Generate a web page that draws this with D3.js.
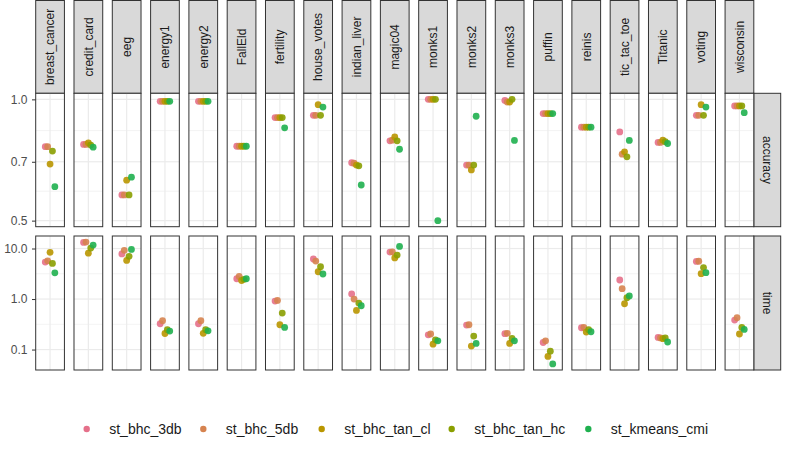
<!DOCTYPE html>
<html>
<head>
<meta charset="utf-8">
<script src="https://cdn.jsdelivr.net/npm/d3@7.9.0/dist/d3.min.js"></script>
<style>
  body { margin: 0; background: #fff; }
  svg { font-family: "Liberation Sans", Arial, sans-serif; display: block; }
</style>
</head>
<body>
<div id="chart"></div>
<script>
const datasets = ["breast_cancer", "credit_card", "eeg", "energy1", "energy2", "FallEld",
  "fertility", "house_votes", "indian_liver", "magic04", "monks1", "monks2", "monks3",
  "puffin", "reinis", "tic_tac_toe", "Titanic", "voting", "wisconsin"];

const series = ["st_bhc_3db", "st_bhc_5db", "st_bhc_tan_cl", "st_bhc_tan_hc", "st_kmeans_cmi"];
const seriesColors = ["#E5708A", "#D6834F", "#B99600", "#8A9F00", "#1FB04F"];

const metrics = ["accuracy", "time"];

// accuracy per series, in dataset order
const accuracy3db = [0.763, 0.773, 0.579, 0.989, 0.989, 0.765, 0.901, 0.913, 0.696, 0.789, 1.0, 0.687, 0.994, 0.922, 0.853, 0.830, 0.782, 0.913, 0.963];
const accuracy5db = [0.763, 0.773, 0.579, 0.989, 0.989, 0.765, 0.901, 0.913, 0.694, 0.792, 1.0, 0.687, 0.985, 0.922, 0.853, 0.731, 0.782, 0.913, 0.963];
const accuracyTanCl = [0.691, 0.780, 0.630, 0.989, 0.989, 0.765, 0.901, 0.970, 0.687, 0.807, 1.0, 0.668, 0.985, 0.922, 0.853, 0.741, 0.792, 0.970, 0.963];
const accuracyTanHc = [0.744, 0.770, 0.579, 0.989, 0.989, 0.765, 0.901, 0.913, 0.684, 0.789, 1.0, 0.687, 1.0, 0.922, 0.853, 0.720, 0.785, 0.913, 0.963];
const accuracyKmeans = [0.607, 0.761, 0.641, 0.989, 0.989, 0.765, 0.850, 0.957, 0.613, 0.752, 0.5, 0.908, 0.791, 0.922, 0.853, 0.791, 0.777, 0.957, 0.927];

// time per series, in dataset order
const time3db = [5.4, 13.2, 7.8, 0.324, 0.324, 2.52, 0.913, 6.2, 1.26, 8.5, 0.196, 0.305, 0.206, 0.138, 0.27, 2.38, 0.174, 5.56, 0.384];
const time5db = [5.7, 13.4, 9.2, 0.372, 0.372, 2.8, 0.94, 5.65, 1.0, 8.6, 0.203, 0.31, 0.21, 0.149, 0.275, 1.6, 0.17, 5.6, 0.426];
const timeTanCl = [8.4, 8.1, 5.8, 0.208, 0.21, 2.33, 0.31, 3.47, 0.594, 6.5, 0.128, 0.117, 0.132, 0.073, 0.222, 0.807, 0.164, 3.17, 0.203];
const timeTanHc = [5.07, 10.2, 7.0, 0.247, 0.247, 2.46, 0.528, 4.36, 0.833, 7.4, 0.156, 0.185, 0.166, 0.093, 0.247, 1.06, 0.17, 4.2, 0.274];
const timeKmeans = [3.3, 11.7, 9.6, 0.232, 0.235, 2.52, 0.274, 3.13, 0.736, 11.0, 0.149, 0.132, 0.149, 0.052, 0.225, 1.15, 0.141, 3.32, 0.25];

const accuracyTicks = [0.5, 0.7, 1.0];
const timeTicks = [0.1, 1.0, 10.0];

const values = {
  accuracy: [accuracy3db, accuracy5db, accuracyTanCl, accuracyTanHc, accuracyKmeans],
  time: [time3db, time5db, timeTanCl, timeTanHc, timeKmeans]
};
const ticks = { accuracy: accuracyTicks, time: timeTicks };

const points = [];
metrics.forEach(m => {
  series.forEach((s, si) => {
    datasets.forEach((ds, di) => {
      points.push({ metric: m, series: s, dataset: ds, value: values[m][si][di] });
    });
  });
});

const width = 789;
const height = 451;

const svg = d3.select("#chart").append("svg")
  .attr("width", width)
  .attr("height", height);

const x = d3.scaleBand()
  .domain(datasets)
  .range([35.7, 753.8])
  .paddingInner(0.25)
  .paddingOuter(0);

// discrete x: one unit = bandwidth / 1.2, dodge width 0.5
const unit = x.bandwidth() / 1.2;
const dodge = d3.scalePoint()
  .domain(series)
  .range([-0.2 * unit, 0.2 * unit]);

const rowRange = { accuracy: [226.7, 93.3], time: [370, 236] };

const color = d3.scaleOrdinal().domain(series).range(seriesColors);

const yScales = {};
metrics.forEach(m => {
  const vals = points.filter(d => d.metric === m).map(d => Math.log10(d.value));
  const [lo, hi] = d3.extent(vals);
  const pad = (hi - lo) * 0.05;
  yScales[m] = d3.scaleLog()
    .domain([Math.pow(10, lo - pad), Math.pow(10, hi + pad)])
    .range(rowRange[m]);
});

const stripTop = 0.5;
const stripRight = 780.7;
const labelSize = 12;

// top strips
const strips = svg.append("g").attr("class", "strips");
strips.selectAll("rect")
  .data(datasets)
  .join("rect")
  .attr("x", d => x(d))
  .attr("y", stripTop)
  .attr("width", x.bandwidth())
  .attr("height", rowRange.accuracy[1] - stripTop)
  .attr("fill", "#D9D9D9")
  .attr("stroke", "#333333")
  .attr("stroke-width", 1);

strips.selectAll("text")
  .data(datasets)
  .join("text")
  .attr("transform", d => `translate(${x(d) + x.bandwidth() / 2 + 4.3},${(stripTop + rowRange.accuracy[1]) / 2}) rotate(-90)`)
  .attr("text-anchor", "middle")
  .attr("font-size", labelSize)
  .attr("fill", "#1A1A1A")
  .text(d => d);

metrics.forEach(m => {
  const y = yScales[m];
  const [y1, y0] = rowRange[m];
  const g = svg.append("g").attr("class", `row-${m}`);

  // right strip
  g.append("rect")
    .attr("x", x.range()[1])
    .attr("y", y0)
    .attr("width", stripRight - x.range()[1])
    .attr("height", y1 - y0)
    .attr("fill", "#D9D9D9")
    .attr("stroke", "#333333")
    .attr("stroke-width", 1);

  g.append("text")
    .attr("transform", `translate(${(x.range()[1] + stripRight) / 2 - 4.3},${(y0 + y1) / 2}) rotate(90)`)
    .attr("text-anchor", "middle")
    .attr("font-size", labelSize)
    .attr("fill", "#1A1A1A")
    .text(m);

  // minor breaks: midpoints of majors in log space
  const major = ticks[m];
  const minor = d3.pairs(major).map(([a, b]) => Math.sqrt(a * b));

  const panels = g.selectAll("g.panel")
    .data(datasets)
    .join("g")
    .attr("class", "panel")
    .attr("transform", d => `translate(${x(d)},0)`);

  panels.append("rect")
    .attr("y", y0)
    .attr("width", x.bandwidth())
    .attr("height", y1 - y0)
    .attr("fill", "#fff");

  panels.selectAll("line.minor")
    .data(minor)
    .join("line")
    .attr("class", "minor")
    .attr("x1", 0)
    .attr("x2", x.bandwidth())
    .attr("y1", d => y(d))
    .attr("y2", d => y(d))
    .attr("stroke", "#EBEBEB")
    .attr("stroke-width", 0.6);

  panels.selectAll("line.major")
    .data(major)
    .join("line")
    .attr("class", "major")
    .attr("x1", 0)
    .attr("x2", x.bandwidth())
    .attr("y1", d => y(d))
    .attr("y2", d => y(d))
    .attr("stroke", "#EBEBEB")
    .attr("stroke-width", 1.2);

  panels.append("line")
    .attr("x1", x.bandwidth() / 2)
    .attr("x2", x.bandwidth() / 2)
    .attr("y1", y0)
    .attr("y2", y1)
    .attr("stroke", "#EBEBEB")
    .attr("stroke-width", 1.2);

  panels.selectAll("circle")
    .data(ds => points.filter(p => p.metric === m && p.dataset === ds))
    .join("circle")
    .attr("cx", d => x.bandwidth() / 2 + dodge(d.series))
    .attr("cy", d => y(d.value))
    .attr("r", 3.4)
    .attr("fill", d => color(d.series))
    .attr("fill-opacity", 0.9);

  panels.append("rect")
    .attr("y", y0)
    .attr("width", x.bandwidth())
    .attr("height", y1 - y0)
    .attr("fill", "none")
    .attr("stroke", "#333333")
    .attr("stroke-width", 1);

  // y axis
  const axis = g.append("g")
    .attr("transform", `translate(${x.range()[0]},0)`)
    .call(d3.axisLeft(y)
      .tickValues(major)
      .tickSize(3.7)
      .tickPadding(4.5)
      .tickFormat(d3.format(".1f")));
  axis.select(".domain").remove();
  axis.selectAll(".tick line").attr("stroke", "#333333").attr("stroke-width", 1);
  axis.selectAll(".tick text")
    .attr("fill", "#4D4D4D")
    .attr("font-size", labelSize)
    .attr("font-family", "Liberation Sans, Arial, sans-serif");
});

// legend
const legendX = [86.7, 203.3, 321.7, 451.7, 588.3];
const legend = svg.append("g").attr("class", "legend");
const items = legend.selectAll("g")
  .data(series)
  .join("g")
  .attr("transform", (d, i) => `translate(${legendX[i]},429)`);

items.append("circle")
  .attr("r", 3.2)
  .attr("fill", d => color(d));

items.append("text")
  .attr("x", 22.5)
  .attr("dy", "0.35em")
  .attr("font-size", 14)
  .attr("fill", "#1A1A1A")
  .text(d => d);
</script>
</body>
</html>
